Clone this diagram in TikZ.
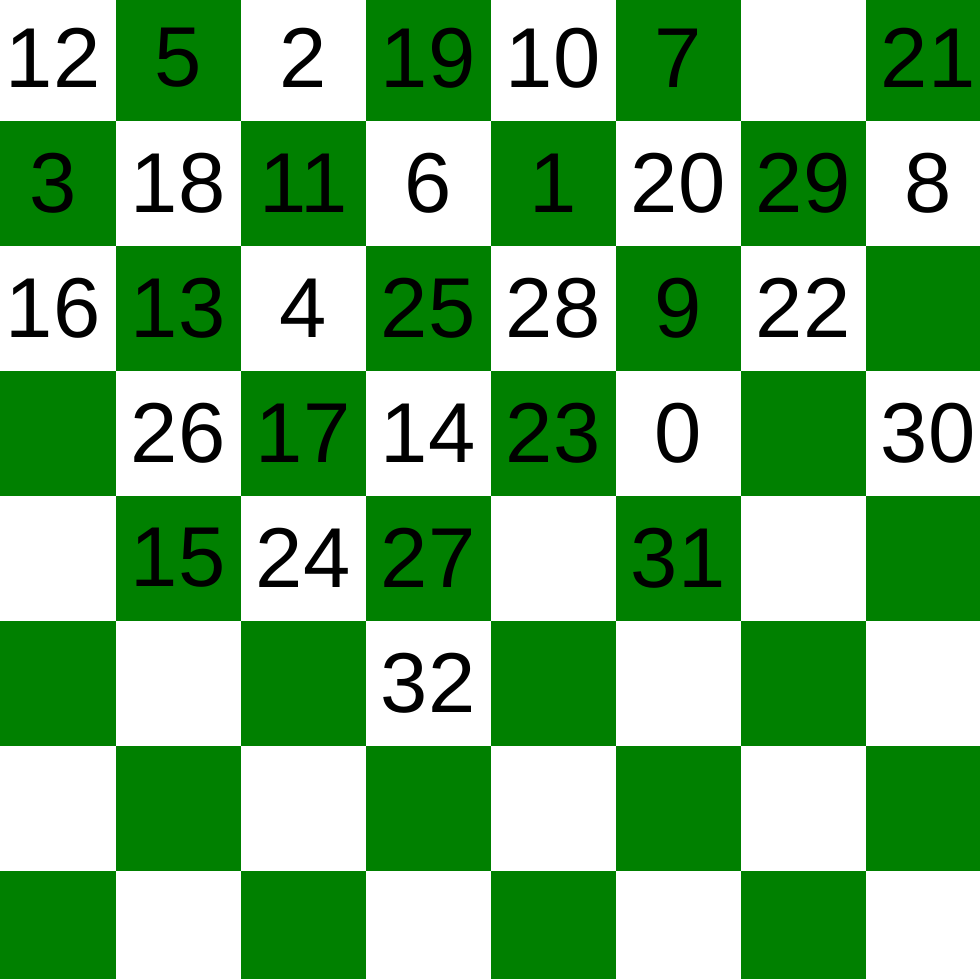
\documentclass[tikz,border=0pt]{standalone}
\usepackage{fontspec}
\setmainfont{Liberation Sans}
\usepackage{tikz}
\usetikzlibrary{
  matrix
}
\definecolor{boardgreen}{RGB}{0,128,0}

\begin{document}
\begin{tikzpicture}[
      cell/.style={
         rectangle,
         minimum size=125pt,
         inner sep=0pt,
         outer sep=0pt,
         text=black,
         font=\fontsize{85pt}{100pt}\selectfont,
      },
      lightsq/.style={
         cell,
         fill=white
      },
      darksq/.style={
         cell,
         fill=boardgreen
      }
    ]
    \useasboundingbox (0pt,0pt) rectangle (980pt,-979pt);
    \clip (0pt,0pt) rectangle (980pt,-979pt);
    \matrix[column sep=0pt, row sep=0pt, inner sep=0pt, outer sep=0pt, anchor=north west] at (-9.3pt,4.5pt) {
\node (n11) [lightsq] {12}; & \node (n12) [darksq] {5}; & \node (n13) [lightsq] {2}; & \node (n14) [darksq] {19}; & \node (n15) [lightsq] {10}; & \node (n16) [darksq] {7}; & \node (n17) [lightsq] {}; & \node (n18) [darksq] {21};\\
\node (n21) [darksq] {3}; & \node (n22) [lightsq] {18}; & \node (n23) [darksq] {11}; & \node (n24) [lightsq] {6}; & \node (n25) [darksq] {1}; & \node (n26) [lightsq] {20}; & \node (n27) [darksq] {29}; & \node (n28) [lightsq] {8};\\
\node (n31) [lightsq] {16}; & \node (n32) [darksq] {13}; & \node (n33) [lightsq] {4}; & \node (n34) [darksq] {25}; & \node (n35) [lightsq] {28}; & \node (n36) [darksq] {9}; & \node (n37) [lightsq] {22}; & \node (n38) [darksq] {};\\
\node (n41) [darksq] {}; & \node (n42) [lightsq] {26}; & \node (n43) [darksq] {17}; & \node (n44) [lightsq] {14}; & \node (n45) [darksq] {23}; & \node (n46) [lightsq] {0}; & \node (n47) [darksq] {}; & \node (n48) [lightsq] {30};\\
\node (n51) [lightsq] {}; & \node (n52) [darksq] {15}; & \node (n53) [lightsq] {24}; & \node (n54) [darksq] {27}; & \node (n55) [lightsq] {}; & \node (n56) [darksq] {31}; & \node (n57) [lightsq] {}; & \node (n58) [darksq] {};\\
\node (n61) [darksq] {}; & \node (n62) [lightsq] {}; & \node (n63) [darksq] {}; & \node (n64) [lightsq] {32}; & \node (n65) [darksq] {}; & \node (n66) [lightsq] {}; & \node (n67) [darksq] {}; & \node (n68) [lightsq] {};\\
\node (n71) [lightsq] {}; & \node (n72) [darksq] {}; & \node (n73) [lightsq] {}; & \node (n74) [darksq] {}; & \node (n75) [lightsq] {}; & \node (n76) [darksq] {}; & \node (n77) [lightsq] {}; & \node (n78) [darksq] {};\\
\node (n81) [darksq] {}; & \node (n82) [lightsq] {}; & \node (n83) [darksq] {}; & \node (n84) [lightsq] {}; & \node (n85) [darksq] {}; & \node (n86) [lightsq] {}; & \node (n87) [darksq] {}; & \node (n88) [lightsq] {};\\
    };
\end{tikzpicture}
\end{document}
